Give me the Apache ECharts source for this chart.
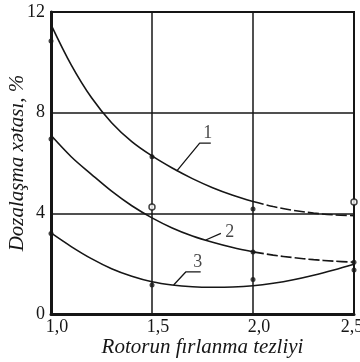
<!DOCTYPE html>
<html>
<head>
<meta charset="utf-8">
<script src="https://cdn.jsdelivr.net/npm/echarts@6/dist/echarts.min.js"></script>
<style>
  html, body { margin: 0; padding: 0; background: #fff; }
  #chart { width: 360px; height: 362px; }
</style>
</head>
<body>
<div id="chart"></div>
<script>
// ---- data ----
const xValues = [1.0, 1.1, 1.2, 1.3, 1.4, 1.5, 1.6, 1.7, 1.8, 1.9, 2.0, 2.1, 2.2, 2.3, 2.4, 2.5];
const curve1 = [11.5, 9.9, 8.6, 7.6, 6.85, 6.28, 5.8, 5.38, 5.02, 4.72, 4.47, 4.27, 4.12, 4.01, 3.94, 3.91];
const curve2 = [7.1, 6.25, 5.55, 4.88, 4.3, 3.82, 3.42, 3.1, 2.85, 2.64, 2.47, 2.34, 2.24, 2.16, 2.1, 2.06];
const curve3 = [3.22, 2.68, 2.2, 1.8, 1.5, 1.28, 1.15, 1.08, 1.06, 1.07, 1.12, 1.22, 1.36, 1.54, 1.75, 1.98];
const dashedFromX = 2.0;

const filledPoints = [[1.0, 10.85], [1.0, 6.95], [1.0, 3.2], [1.5, 6.25], [1.5, 1.15],
                      [2.0, 4.17], [2.0, 2.46], [2.0, 1.37], [2.5, 2.06], [2.5, 1.75]];
const openPoints = [[1.5, 4.25], [2.5, 4.45]];

const xTickLabels = ['1,0', '1,5', '2,0', '2,5'];
const yTickLabels = ['0', '4', '8', '12'];
const xName = 'Rotorun fırlanma tezliyi';
const yName = 'Dozalaşma xətası, %';

// curve labels with leader lines (data coordinates)
const curveLabels = ['1', '2', '3'];
const labelPos = [[1.776, 7.2], [1.885, 3.26], [1.726, 2.07]];
const leader1 = [[1.622, 5.68], [1.736, 6.79], [1.791, 6.79]];
const leader2 = [[1.766, 2.94], [1.841, 3.2]];
const leader3 = [[1.607, 1.15], [1.667, 1.67], [1.741, 1.67]];

// ---- build ----
function pairs(ys, from, to) {
  const out = [];
  for (let i = 0; i < xValues.length; i++) {
    const x = xValues[i];
    if (x >= from - 1e-9 && x <= to + 1e-9) out.push([x, ys[i]]);
  }
  return out;
}
const ink = '#161616';
const serif = '"Liberation Serif", "DejaVu Serif", serif';

function curveSeries(data, dashed) {
  return {
    type: 'line', data: data, smooth: 0.35, showSymbol: false, silent: true,
    lineStyle: { color: ink, width: 1.6, type: dashed ? [11, 3] : 'solid' },
    z: 3
  };
}
function leaderSeries(data) {
  return {
    type: 'line', data: data, showSymbol: false, silent: true,
    lineStyle: { color: ink, width: 1.3 }, z: 3
  };
}

const series = [
  curveSeries(pairs(curve1, 1.0, dashedFromX), false),
  curveSeries(pairs(curve1, dashedFromX, 2.5), true),
  curveSeries(pairs(curve2, 1.0, dashedFromX), false),
  curveSeries(pairs(curve2, dashedFromX, 2.5), true),
  curveSeries(pairs(curve3, 1.0, 2.5), false),
  leaderSeries(leader1), leaderSeries(leader2), leaderSeries(leader3),
  {
    type: 'scatter', data: filledPoints, symbol: 'circle', symbolSize: 5,
    itemStyle: { color: ink }, z: 5, silent: true
  },
  {
    type: 'scatter', data: openPoints, symbol: 'circle', symbolSize: 6,
    itemStyle: { color: '#fff', borderColor: ink, borderWidth: 1.5 }, z: 5, silent: true
  },
  {
    type: 'scatter', data: labelPos.map((p, i) => ({ value: p, name: curveLabels[i] })),
    symbolSize: 0, silent: true, z: 6,
    label: {
      show: true, position: 'inside', formatter: p => p.name,
      color: ink, fontFamily: serif, fontSize: 18
    }
  }
];

const chart = echarts.init(document.getElementById('chart'), null, { renderer: 'canvas' });
chart.setOption({
  backgroundColor: '#fff',
  animation: false,
  grid: {
    left: 51, right: 6, top: 12, bottom: 48, containLabel: false, outerBoundsMode: 'none',
    show: true, borderColor: ink, borderWidth: 2, backgroundColor: 'transparent'
  },
  xAxis: {
    type: 'value', min: 1.0, max: 2.5, interval: 0.5,
    name: xName, nameLocation: 'middle', nameGap: 23, nameMoveOverlap: false,
    nameTextStyle: { fontFamily: serif, fontStyle: 'italic', fontSize: 21, color: ink },
    axisLine: { show: true, lineStyle: { color: ink, width: 3 } },
    axisTick: { show: false },
    axisLabel: {
      margin: 4, fontFamily: serif, fontSize: 18, color: ink, padding: [0, 0, 0, 12],
      formatter: v => {
        const i = Math.round((v - 1.0) / 0.5);
        return i === xTickLabels.length - 1 ? '{r|' + xTickLabels[i] + '}' : xTickLabels[i];
      },
      rich: { r: { fontFamily: serif, fontSize: 18, color: ink, padding: [0, 16, 0, 0] } }
    },
    splitLine: { show: true, lineStyle: { color: ink, width: 1.5 } }
  },
  yAxis: {
    type: 'value', min: 0, max: 12, interval: 4,
    name: yName, nameLocation: 'middle', nameGap: 23, nameMoveOverlap: false,
    nameTextStyle: { fontFamily: serif, fontStyle: 'italic', fontSize: 21, color: ink },
    axisLine: { show: true, lineStyle: { color: ink, width: 3 } },
    axisTick: { show: false },
    axisLabel: {
      margin: 6, fontFamily: serif, fontSize: 18, color: ink,
      formatter: v => yTickLabels[Math.round(v / 4)]
    },
    splitLine: { show: true, lineStyle: { color: ink, width: 1.5 } }
  },
  series: series
});
</script>
</body>
</html>
